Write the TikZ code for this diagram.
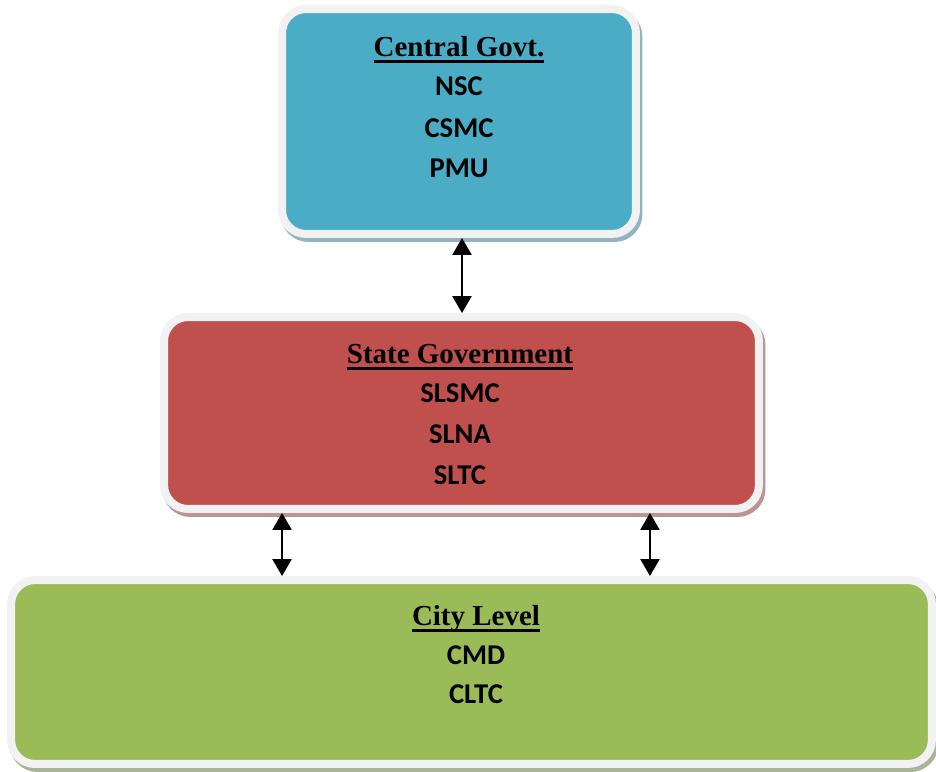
\documentclass[tikz,border=0pt]{standalone}
\usepackage{fontspec}
\setmainfont{Carlito}
\newfontfamily\headfont{Liberation Serif Bold}
\newsavebox{\headbox}
\newcommand{\ulhead}[1]{\sbox{\headbox}{#1}\rlap{\rule[-3.9pt]{\wd\headbox}{1.4pt}}\usebox{\headbox}}
\usetikzlibrary{arrows.meta,shadows}

\definecolor{ringgray}{HTML}{F2F2F2}
\definecolor{aquafill}{HTML}{4BACC6}
\definecolor{aquashade}{HTML}{93B4BE}
\definecolor{redfill}{HTML}{C0504D}
\definecolor{redshade}{HTML}{BC9494}
\definecolor{greenfill}{HTML}{9BBB59}
\definecolor{greenshade}{HTML}{A9B498}

\tikzset{
  tier/.style={rectangle, rounded corners=0.48cm, draw=ringgray, line width=0.16cm,
    drop shadow={shadow xshift=0.05cm, shadow yshift=-0.08cm, fill=#1, draw=#1, line width=0.16cm, opacity=1}},
  head/.style={anchor=base, inner sep=0pt, font=\headfont\fontsize{16.5}{20}\selectfont},
  item/.style={anchor=base, inner sep=0pt, font=\bfseries\fontsize{16.3}{19}\selectfont},
  link/.style={<->, >={Triangle[width=0.38cm,length=0.34cm]}, line width=0.05cm}
}

\begin{document}
\begin{tikzpicture}[x=0.02cm, y=-0.02cm]
\useasboundingbox (0,0) rectangle (936,771);

% the three levels
\node[tier=aquashade, fill=aquafill, minimum width=7.08cm, minimum height=4.5cm] (central) at (459,121.5){};
\node[tier=redshade, fill=redfill, minimum width=11.9cm, minimum height=3.84cm] (state) at (461.5,413){};
\node[tier=greenshade, fill=greenfill, minimum width=18.42cm, minimum height=3.68cm] (city) at (471.5,672){};

% central
\node[head] (centralhead) at (459,56){\ulhead{Central Govt.}};
\node[item] (nsc) at (459,95){NSC};
\node[item] (csmc) at (459,137){CSMC};
\node[item] (pmu) at (459,177){PMU};

% state
\node[head] (statehead) at (460,363){\ulhead{State Government}};
\node[item] (slsmc) at (460,402){SLSMC};
\node[item] (slna) at (460,443){SLNA};
\node[item] (sltc) at (460,484){SLTC};

% city
\node[head] (cityhead) at (476,625){\ulhead{City Level}};
\node[item] (cmd) at (476,664){CMD};
\node[item] (cltc) at (476,703){CLTC};

% links
\draw[link] ([xshift=0.06cm]central.south) -- ([xshift=0.06cm]central.south |- state.north);
\draw[link] ([xshift=-3.59cm]state.south) -- ([xshift=-3.59cm]state.south |- city.north);
\draw[link] ([xshift=3.77cm]state.south) -- ([xshift=3.77cm]state.south |- city.north);

\end{tikzpicture}
\end{document}
